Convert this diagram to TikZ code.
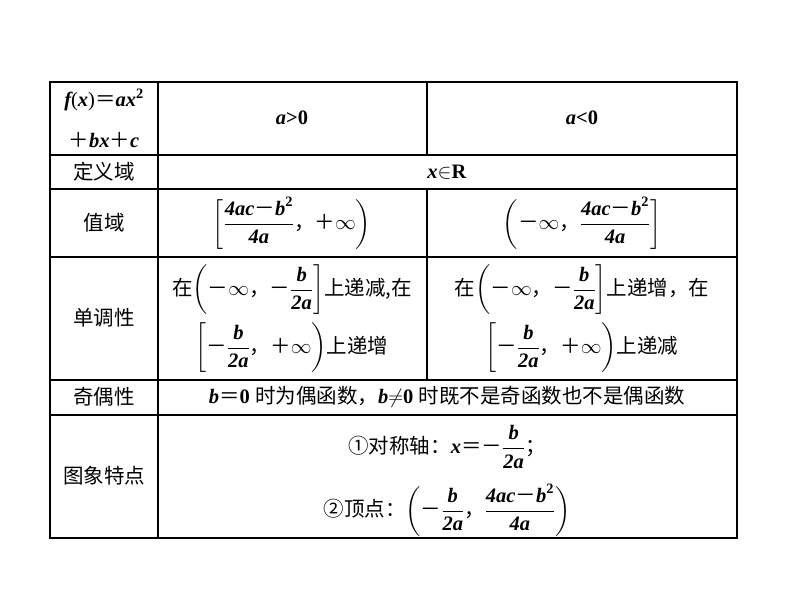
\documentclass[tikz,border=0pt]{standalone}
\usepackage{fontspec}
\usepackage{amsmath}
\setmainfont{Liberation Serif}
\newfontfamily\cjk{Noto Sans CJK SC}
\newcommand{\m}[1]{\mbox{\bfseries\itshape #1}}
\newcommand{\z}[1]{{\cjk #1}}
\newcommand{\zm}[1]{\text{\cjk #1}}
\newcommand{\fb}[2]{\dfrac{#1}{\m{#2}}}
\newcommand{\sq}{$^{\textbf{2}}$}
\newcommand{\num}{\m{4ac}\zm{－}\m{b}^{\textbf{2}}}
\begin{document}
\begin{tikzpicture}[x=1pt,y=-1pt,line width=1.6pt,
  txt/.style={inner sep=0pt,font=\fontsize{20.5}{24}\selectfont}]
\useasboundingbox (0,0) rectangle (794,596);
\fill[white] (0,0) rectangle (794,596);
\draw (50,82) rectangle (737,538);
\foreach \yy in {155,189,257,380,415} \draw (50,\yy) -- (737,\yy);
\draw (158,82) -- (158,538);
\draw (427,82) -- (427,155);
\draw (427,189) -- (427,380);
\node[txt] (h1) at (104,100) {\m{f}(\m{x})\z{＝}\m{ax}\sq};
\node[txt] (h2) at (104,140) {\z{＋}\m{bx}\z{＋}\m{c}};
\node[txt] (h3) at (292,118) {\m{a}\textbf{>0}};
\node[txt] (h4) at (582,118) {\m{a}\textbf{<0}};
\node[txt] (r1) at (104,172) {\z{定义域}};
\node[txt] (r1v) at (447,172) {\m{x}$\in$\textbf{R}};
\node[txt] (r2) at (104,223) {\z{值域}};
\node[txt] (r2a) at (292,223) {$\left[\fb{\num}{4a}\zm{，}\zm{＋}\infty\right)$};
\node[txt] (r2b) at (582,223) {$\left(\zm{－}\infty\zm{，}\fb{\num}{4a}\right]$};
\node[txt] (r3) at (104,318) {\z{单调性}};
\node[txt] (r3a) at (292,290) {\z{在}$\left(\zm{－}\infty\zm{，}\zm{－}\fb{\m{b}}{2a}\right]$\z{上递减,在}};
\node[txt] (r3b) at (292,348) {$\left[\zm{－}\fb{\m{b}}{2a}\zm{，}\zm{＋}\infty\right)$\z{上递增}};
\node[txt] (r3c) at (582,290) {\z{在}$\left(\zm{－}\infty\zm{，}\zm{－}\fb{\m{b}}{2a}\right]$\z{上递增，在}};
\node[txt] (r3d) at (582,348) {$\left[\zm{－}\fb{\m{b}}{2a}\zm{，}\zm{＋}\infty\right)$\z{上递减}};
\node[txt] (r4) at (104,397) {\z{奇偶性}};
\node[txt] (r4v) at (447,397) {\m{b}\z{＝}\textbf{0} \z{时为偶函数，}\m{b}$\neq$\textbf{0} \z{时既不是奇函数也不是偶函数}};
\node[txt] (r5) at (104,476) {\z{图象特点}};
\node[txt] (r5a) at (447,447) {\z{①对称轴：}\m{x}$\zm{＝}\zm{－}\fb{\m{b}}{2a}$\z{；}};
\node[txt] (r5b) at (447,510) {\z{②顶点：}$\left(\zm{－}\fb{\m{b}}{2a}\zm{，}\fb{\num}{4a}\right)$};
\end{tikzpicture}
\end{document}
